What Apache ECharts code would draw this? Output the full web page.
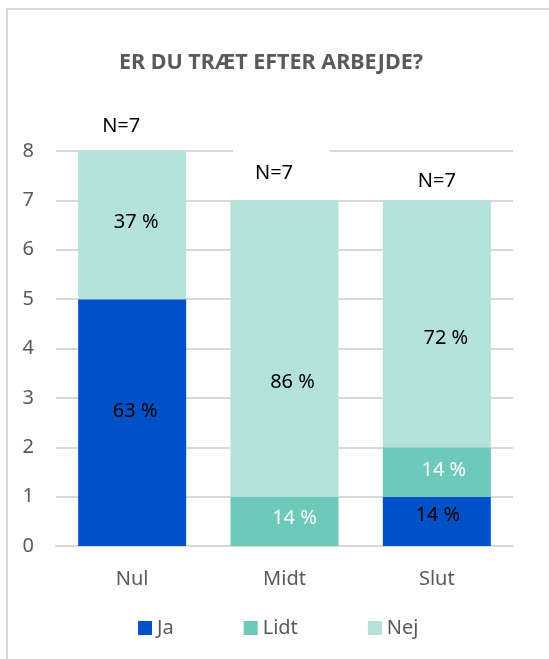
<!DOCTYPE html>
<html>
<head>
<meta charset="utf-8">
<script src="https://cdn.jsdelivr.net/npm/echarts@6/dist/echarts.min.js"></script>
<style>
  html, body { margin: 0; padding: 0; background: #fff; }
  #chart { width: 549px; height: 659px; }
</style>
</head>
<body>
<div id="chart"></div>
<script>
  // data
  var categories = ['Nul', 'Midt', 'Slut'];
  var jaValues = [5, 0, 1];
  var lidtValues = [0, 1, 1];
  var nejValues = [3, 6, 5];
  var jaLabels = ['63 %', '', '14 %'];
  var lidtLabels = ['', '14 %', '14 %'];
  var nejLabels = ['37 %', '86 %', '72 %'];
  var nLabels = ['N=7', 'N=7', 'N=7'];
  var yTicks = [0, 1, 2, 3, 4, 5, 6, 7, 8];

  var font = '"Noto Sans", "Open Sans", sans-serif';
  var grey = '#595959';

  // label nudges, to sit where the original text boxes are
  var offsets = {
    ja: [[3, -11], [0, 0], [1, -6]],
    lidt: [[0, 0], [10, -3], [7, -2]],
    nej: [[4, -3], [8, 34], [9, 14]],
    n: [[-11, -13], [-3, -13], [0, -7]]
  };

  var buildData = function (values, labels, offs, color) {
    var arr = [];
    for (var i = 0; i < values.length; i++) {
      arr.push({
        value: values[i],
        label: {
          show: labels[i] !== '',
          formatter: labels[i],
          offset: offs[i],
          color: color
        }
      });
    }
    return arr;
  };

  // invisible zero bar on top of each stack, carries the N=7 text
  var nData = [];
  for (var i = 0; i < nLabels.length; i++) {
    var lab = {
      show: true,
      formatter: nLabels[i],
      offset: offsets.n[i]
    };
    if (i === 1) {
      // white box hides the top gridline, like the original
      lab.backgroundColor = '#fff';
      lab.padding = [16, 37, 2, 22];
    }
    nData.push({ value: 0, label: lab });
  }

  var myChart = echarts.init(document.getElementById('chart'));
  var option = {
    animation: false,
    color: ['#0050c8', '#6dc9ba', '#b4e2db'],
    textStyle: { fontFamily: font },
    graphic: [{
      type: 'rect',
      shape: { x: 7, y: 9, width: 560, height: 700 },
      style: { fill: 'none', stroke: '#d9d9d9', lineWidth: 2 },
      silent: true
    }],
    title: {
      text: 'ER DU TRÆT EFTER ARBEJDE?',
      left: 266,
      textAlign: 'center',
      top: 47,
      textStyle: { fontFamily: font, fontSize: 21.5, fontWeight: 'bold', color: grey }
    },
    legend: {
      data: ['Ja', 'Lidt', 'Nej'],
      left: 138,
      top: 618,
      padding: 0,
      itemWidth: 14,
      itemHeight: 14,
      itemGap: 70,
      icon: 'rect',
      textStyle: { fontFamily: font, fontSize: 20, color: grey }
    },
    grid: { left: 56, right: 36, top: 151, bottom: 113 },
    xAxis: {
      type: 'category',
      data: categories,
      axisLine: { lineStyle: { color: '#d9d9d9', width: 2 } },
      axisTick: { show: false },
      axisLabel: { fontFamily: font, fontSize: 20, color: grey, margin: 23 }
    },
    yAxis: {
      type: 'value',
      min: yTicks[0],
      max: yTicks[yTicks.length - 1],
      interval: 1,
      axisLine: { show: false },
      axisTick: { show: false },
      splitLine: { lineStyle: { color: '#d9d9d9', width: 2 } },
      axisLabel: { fontFamily: font, fontSize: 20, color: grey, margin: 22 }
    },
    series: [
      {
        name: 'Ja', type: 'bar', stack: 'a', barWidth: 108,
        label: { position: 'inside', fontFamily: font, fontSize: 20 },
        data: buildData(jaValues, jaLabels, offsets.ja, '#000')
      },
      {
        name: 'Lidt', type: 'bar', stack: 'a', barWidth: 108,
        label: { position: 'inside', fontFamily: font, fontSize: 20 },
        data: buildData(lidtValues, lidtLabels, offsets.lidt, '#fff')
      },
      {
        name: 'Nej', type: 'bar', stack: 'a', barWidth: 108,
        label: { position: 'inside', fontFamily: font, fontSize: 20 },
        data: buildData(nejValues, nejLabels, offsets.nej, '#000')
      },
      {
        name: 'N', type: 'bar', stack: 'a', barWidth: 108,
        itemStyle: { color: 'transparent' },
        label: { position: 'top', distance: 0, fontFamily: font, fontSize: 20, lineHeight: 24, color: '#000' },
        data: nData
      }
    ]
  };
  myChart.setOption(option);
</script>
</body>
</html>
